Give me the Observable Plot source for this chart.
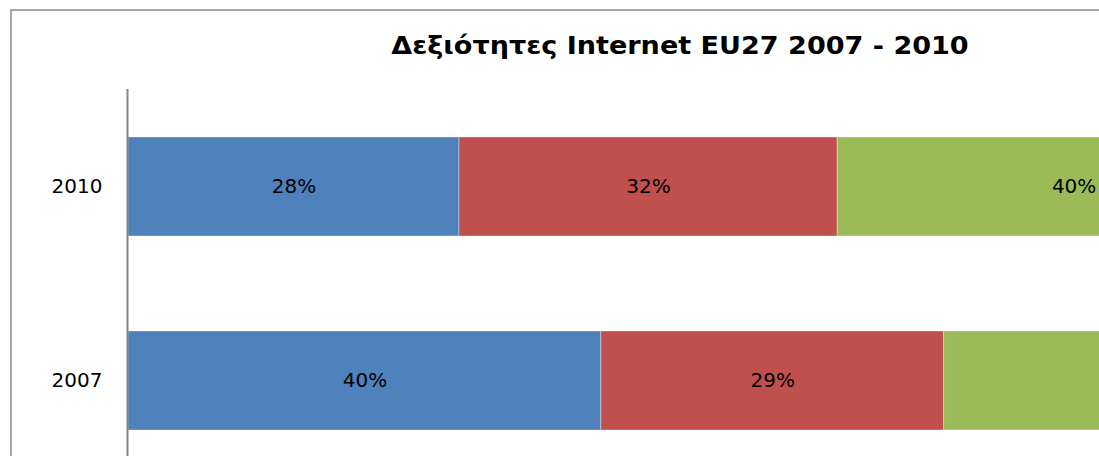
<!DOCTYPE html>
<html>
<head>
<meta charset="utf-8">
<script src="https://cdn.jsdelivr.net/npm/d3@7"></script>
<script src="https://cdn.jsdelivr.net/npm/@observablehq/plot@0.6"></script>
<style>
  html, body { margin: 0; padding: 0; width: 1099px; height: 456px; overflow: hidden; background: #fff; }
  #frame { position: absolute; left: 10px; top: 9px; width: 2000px; height: 2000px; border: 2px solid #a6a6a6; box-sizing: border-box; }
  #title { position: absolute; left: 0; top: 34px; width: 1360px; text-align: center; white-space: nowrap;
           font-family: "DejaVu Sans", sans-serif; font-weight: bold; font-size: 24px; line-height: 24px; color: #000;
           transform: scaleX(1.127); transform-origin: 680px 50%; }
  #chart { position: absolute; left: 0; top: 89px; }
</style>
</head>
<body>
<div id="frame"></div>
<div id="title">Δεξιότητες Internet EU27 2007 - 2010</div>
<div id="chart"></div>
<script>
const years = ["2010", "2007"];
const series = ["Σειρά 1", "Σειρά 2", "Σειρά 3"];
const values2010 = [28, 32, 40];
const values2007 = [40, 29, 31];
const colors = ["#4F81BD", "#C0504D", "#9BBB59"];

const data = [];
series.forEach((s, i) => {
  data.push({year: "2010", cat: s, value: values2010[i]});
  data.push({year: "2007", cat: s, value: values2007[i]});
});

const chart = Plot.plot({
  width: 1099,
  height: 367,
  marginLeft: 127,
  marginRight: 0,
  marginTop: 0,
  marginBottom: 0,
  style: {background: "none", overflow: "hidden", fontFamily: "DejaVu Sans, sans-serif"},
  x: {domain: [0, 100], range: [128, 1310], axis: null},
  y: {domain: years, range: [0, 389], paddingInner: 0.4897, paddingOuter: 0.2474, round: false, label: null},
  color: {domain: series, range: colors},
  marks: [
    Plot.barX(data, Plot.stackX({x: "value", y: "year", z: "cat", fill: "cat", order: null,
      stroke: "#ffffff", strokeOpacity: 0.35, strokeWidth: 1})),
    Plot.textX(data, Plot.stackX({x: "value", y: "year", z: "cat", order: null,
      text: d => d.value + "%", fontSize: 20, fill: "#000"})),
    Plot.ruleX([0], {stroke: "#868686", strokeWidth: 2, dx: -1}),
    Plot.axisY({tickSize: 0, tickPadding: 25, fontSize: 20, label: null, fill: "#000"})
  ]
});
document.getElementById("chart").appendChild(chart);
</script>
</body>
</html>
